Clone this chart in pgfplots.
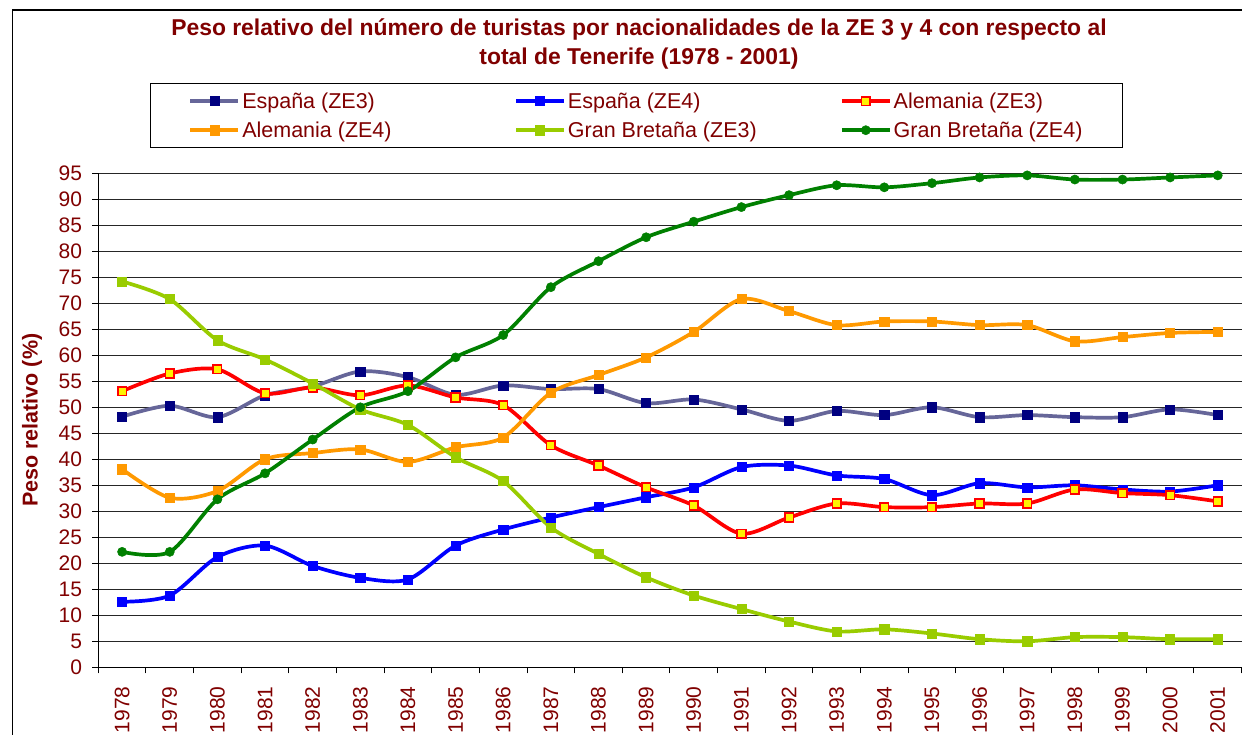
\documentclass[border=0pt]{standalone}
\usepackage{pgfplots}
\usepackage{pgfplotstable}
\pgfplotsset{compat=1.18}
\usepackage{fontspec}
\setmainfont{Liberation Sans}
\definecolor{dred}{RGB}{128,0,0}
\definecolor{ezthree}{RGB}{102,102,153}
\definecolor{navyc}{RGB}{0,0,128}
\definecolor{orangec}{RGB}{255,153,0}
\definecolor{lgreen}{RGB}{153,204,0}
\definecolor{dgreen}{RGB}{0,128,0}
\pgfplotstableread{
x ez3 ez4 az3 az4 gz3 gz4
0 48.2 12.6 53.1 38.1 74.2 22.2
1 50.3 13.8 56.5 32.6 70.8 22.2
2 48.1 21.2 57.3 33.9 62.9 32.3
3 52.3 23.4 52.7 40.0 59.2 37.3
4 54.0 19.5 53.8 41.2 54.6 43.8
5 56.9 17.2 52.3 41.9 49.6 50.0
6 55.8 16.9 54.2 39.5 46.6 53.1
7 52.4 23.4 51.9 42.3 40.4 59.6
8 54.2 26.5 50.4 44.2 35.8 63.9
9 53.5 28.8 42.7 52.8 26.9 73.1
10 53.5 30.8 38.8 56.2 21.8 78.1
11 50.8 32.7 34.6 59.6 17.3 82.7
12 51.5 34.6 31.1 64.5 13.8 85.7
13 49.6 38.5 25.7 70.8 11.2 88.5
14 47.4 38.8 28.8 68.5 8.8 90.8
15 49.3 36.9 31.5 65.8 6.9 92.7
16 48.5 36.2 30.8 66.5 7.3 92.3
17 50.0 33.1 30.8 66.5 6.5 93.1
18 48.1 35.4 31.5 65.8 5.4 94.2
19 48.5 34.6 31.5 65.8 5.0 94.6
20 48.1 35.0 34.2 62.7 5.8 93.8
21 48.1 34.2 33.5 63.5 5.8 93.8
22 49.6 33.8 33.1 64.3 5.4 94.2
23 48.5 35.0 31.9 64.5 5.4 94.6
}\data
\begin{document}
\begin{tikzpicture}
\path[use as bounding box] (0pt,0pt) rectangle (1242pt,735pt);
\fill[white] (0pt,0pt) rectangle (1242pt,735pt);
\draw[line width=1.3pt] (12.5pt,-10pt) rectangle (1260pt,725pt);
\begin{axis}[
  at={(98.3pt,67.7pt)}, anchor=south west,
  scale only axis, width=1143.3pt, height=494pt,
  xmin=-0.5, xmax=23.5, ymin=0, ymax=95,
  axis lines*=left,
  axis line style={line width=1.2pt, black},
  tick align=outside,
  xtick={0,...,23},
  xticklabels={1978,1979,1980,1981,1982,1983,1984,1985,1986,1987,1988,1989,1990,1991,1992,1993,1994,1995,1996,1997,1998,1999,2000,2001},
  major x tick style={draw=none},
  minor xtick={-0.5,0.5,...,23.5},
  minor x tick style={black, line width=1pt},
  minor tick length=6pt,
  ytick={0,5,...,95},
  major y tick style={black, line width=1pt},
  major tick length=6pt,
  ymajorgrids,
  grid style={black!85, line width=1pt},
  /pgf/number format/assume math mode=true,
  ticklabel style={font=\fontsize{21}{24}\selectfont, text=dred},
  xticklabel style={yshift=-13pt, rotate=90, anchor=east, inner sep=0pt},
  yticklabel style={anchor=east, inner sep=0pt, xshift=-10pt},
  ylabel={\bfseries Peso relativo (\%)},
  ylabel style={at={(axis description cs:-0.058,0.5)}, anchor=center, font=\fontsize{21.5}{24}\selectfont, text=dred},
  title={Peso relativo del número de turistas por nacionalidades de la ZE 3 y 4 con respecto al\\total de Tenerife (1978 - 2001)},
  title style={at={(axis description cs:0.4729,1.2495)}, anchor=center, align=center, font=\bfseries\fontsize{22.9}{29.5}\selectfont, text=dred},
  legend columns=3,
  legend style={at={(axis description cs:0.0452,1.1828)}, anchor=north west, draw=black, line width=1.2pt,
     font=\fontsize{21.5}{24}\selectfont, text=dred, inner xsep=38pt, inner ysep=7pt, row sep=8pt,
     cells={anchor=west}},
  legend image code/.code={\draw[#1,mark=none] (0pt,0pt) -- (48pt,0pt); \draw[#1] plot coordinates {(24pt,0pt)};},
  every axis plot/.append style={smooth, line width=3.7pt},
]
\addplot[color=ezthree, mark=square*, mark size=4.6pt, mark options={fill=navyc, draw=navyc, line width=0.5pt}] table[x=x,y=ez3] {\data};
\addlegendentry{\makebox[270pt][l]{España (ZE3)}}
\addplot[color=blue, mark=square*, mark size=4.6pt, mark options={fill=blue, draw=blue, line width=0.5pt}] table[x=x,y=ez4] {\data};
\addlegendentry{\makebox[270pt][l]{España (ZE4)}}
\addplot[color=red, mark=square*, mark size=4.3pt, mark options={fill=yellow, draw=red, line width=1.6pt}] table[x=x,y=az3] {\data};
\addlegendentry{Alemania (ZE3)}
\addplot[color=orangec, mark=square*, mark size=4.6pt, mark options={fill=orangec, draw=orangec, line width=0.5pt}] table[x=x,y=az4] {\data};
\addlegendentry{\makebox[270pt][l]{Alemania (ZE4)}}
\addplot[color=lgreen, mark=square*, mark size=4.6pt, mark options={fill=lgreen, draw=lgreen, line width=0.5pt}] table[x=x,y=gz3] {\data};
\addlegendentry{\makebox[270pt][l]{Gran Bretaña (ZE3)}}
\addplot[color=dgreen, mark=*, mark size=4.6pt, mark options={fill=dgreen, draw=dgreen, line width=0.5pt}] table[x=x,y=gz4] {\data};
\addlegendentry{Gran Bretaña (ZE4)}
\end{axis}
\end{tikzpicture}
\end{document}
